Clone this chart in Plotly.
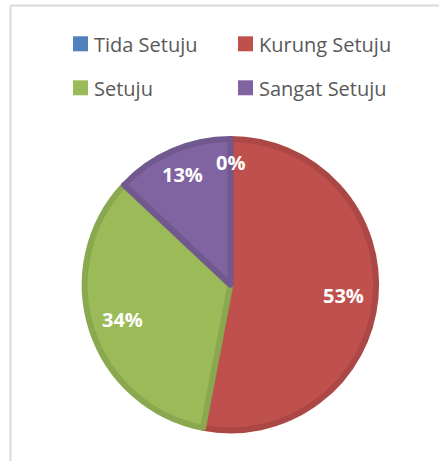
import math
import plotly.graph_objects as go

# ---- data ----
categories = ["Tida Setuju", "Kurung Setuju", "Setuju", "Sangat Setuju"]
percentages = [0, 53, 34, 13]
percent_labels = ["0%", "53%", "34%", "13%"]

# ---- styling ----
W, H = 439, 461
fill_colors = ["#4F81BD", "#C0504D", "#9BBB59", "#8064A2"]
edge_colors = ["#4672A8", "#AB4744", "#8AA84F", "#71598F"]
label_radius_frac = [0.82, 0.765, 0.765, 0.81]

# pie geometry in pixels
CX, CY, R = 230.4, 284.7, 148.7
LINE_W = 6
r_draw = R - LINE_W / 2
dom_x = [(CX - r_draw) / W, (CX + r_draw) / W]
dom_y = [1 - (CY + r_draw) / H, 1 - (CY - r_draw) / H]

fig = go.Figure(
    go.Pie(
        labels=categories,
        values=percentages,
        sort=False,
        direction="clockwise",
        rotation=0,
        marker=dict(colors=fill_colors, line=dict(color=edge_colors, width=LINE_W)),
        textinfo="none",
        hoverinfo="label+percent",
        domain=dict(x=dom_x, y=dom_y),
        showlegend=False,
    )
)

# data labels placed along each slice's mid-angle
total = sum(percentages)
annotations = []
cum = 0
for val, txt, frac in zip(percentages, percent_labels, label_radius_frac):
    mid = (cum + val / 2) / total * 2 * math.pi
    cum += val
    px = CX + R * frac * math.sin(mid)
    py = CY - R * frac * math.cos(mid)
    annotations.append(
        dict(
            x=px / W, y=1 - py / H, xref="paper", yref="paper",
            text=txt, showarrow=False,
            font=dict(family="Open Sans", size=20, color="white", weight="bold"),
            xanchor="center", yanchor="middle",
        )
    )

# chart-area border (left and top edges visible)
shapes = [
    dict(type="line", xref="paper", yref="paper", x0=10.5 / W, x1=10.5 / W,
         y0=0, y1=1 - 5.5 / H, line=dict(color="#D9D9D9", width=2)),
    dict(type="line", xref="paper", yref="paper", x0=10.5 / W, x1=1,
         y0=1 - 5.5 / H, y1=1 - 5.5 / H, line=dict(color="#D9D9D9", width=2)),
]

# legend: 2 columns x 2 rows (swatch + label)
col_x = [73.0, 238.0]
row_y = [43.8, 87.8]
SW = 15
for i, (name, col) in enumerate(zip(categories, fill_colors)):
    x0 = col_x[i % 2]
    yc = row_y[i // 2]
    shapes.append(
        dict(type="rect", xref="paper", yref="paper",
             x0=x0 / W, x1=(x0 + SW) / W,
             y0=1 - (yc + SW / 2) / H, y1=1 - (yc - SW / 2) / H,
             fillcolor=col, line=dict(width=0))
    )
    annotations.append(
        dict(x=(x0 + SW + 4) / W, y=1 - (yc + 1) / H, xref="paper", yref="paper",
             text=name, showarrow=False,
             font=dict(family="Open Sans", size=20, color="#595959"),
             xanchor="left", yanchor="middle")
    )

fig.update_layout(
    width=W, height=H,
    margin=dict(l=0, r=0, t=0, b=0),
    paper_bgcolor="white",
    plot_bgcolor="white",
    annotations=annotations,
    shapes=shapes,
)

fig.write_html(
    "out.html",
    config={"displayModeBar": False},
    post_script="document.body.style.margin='0';",
)
